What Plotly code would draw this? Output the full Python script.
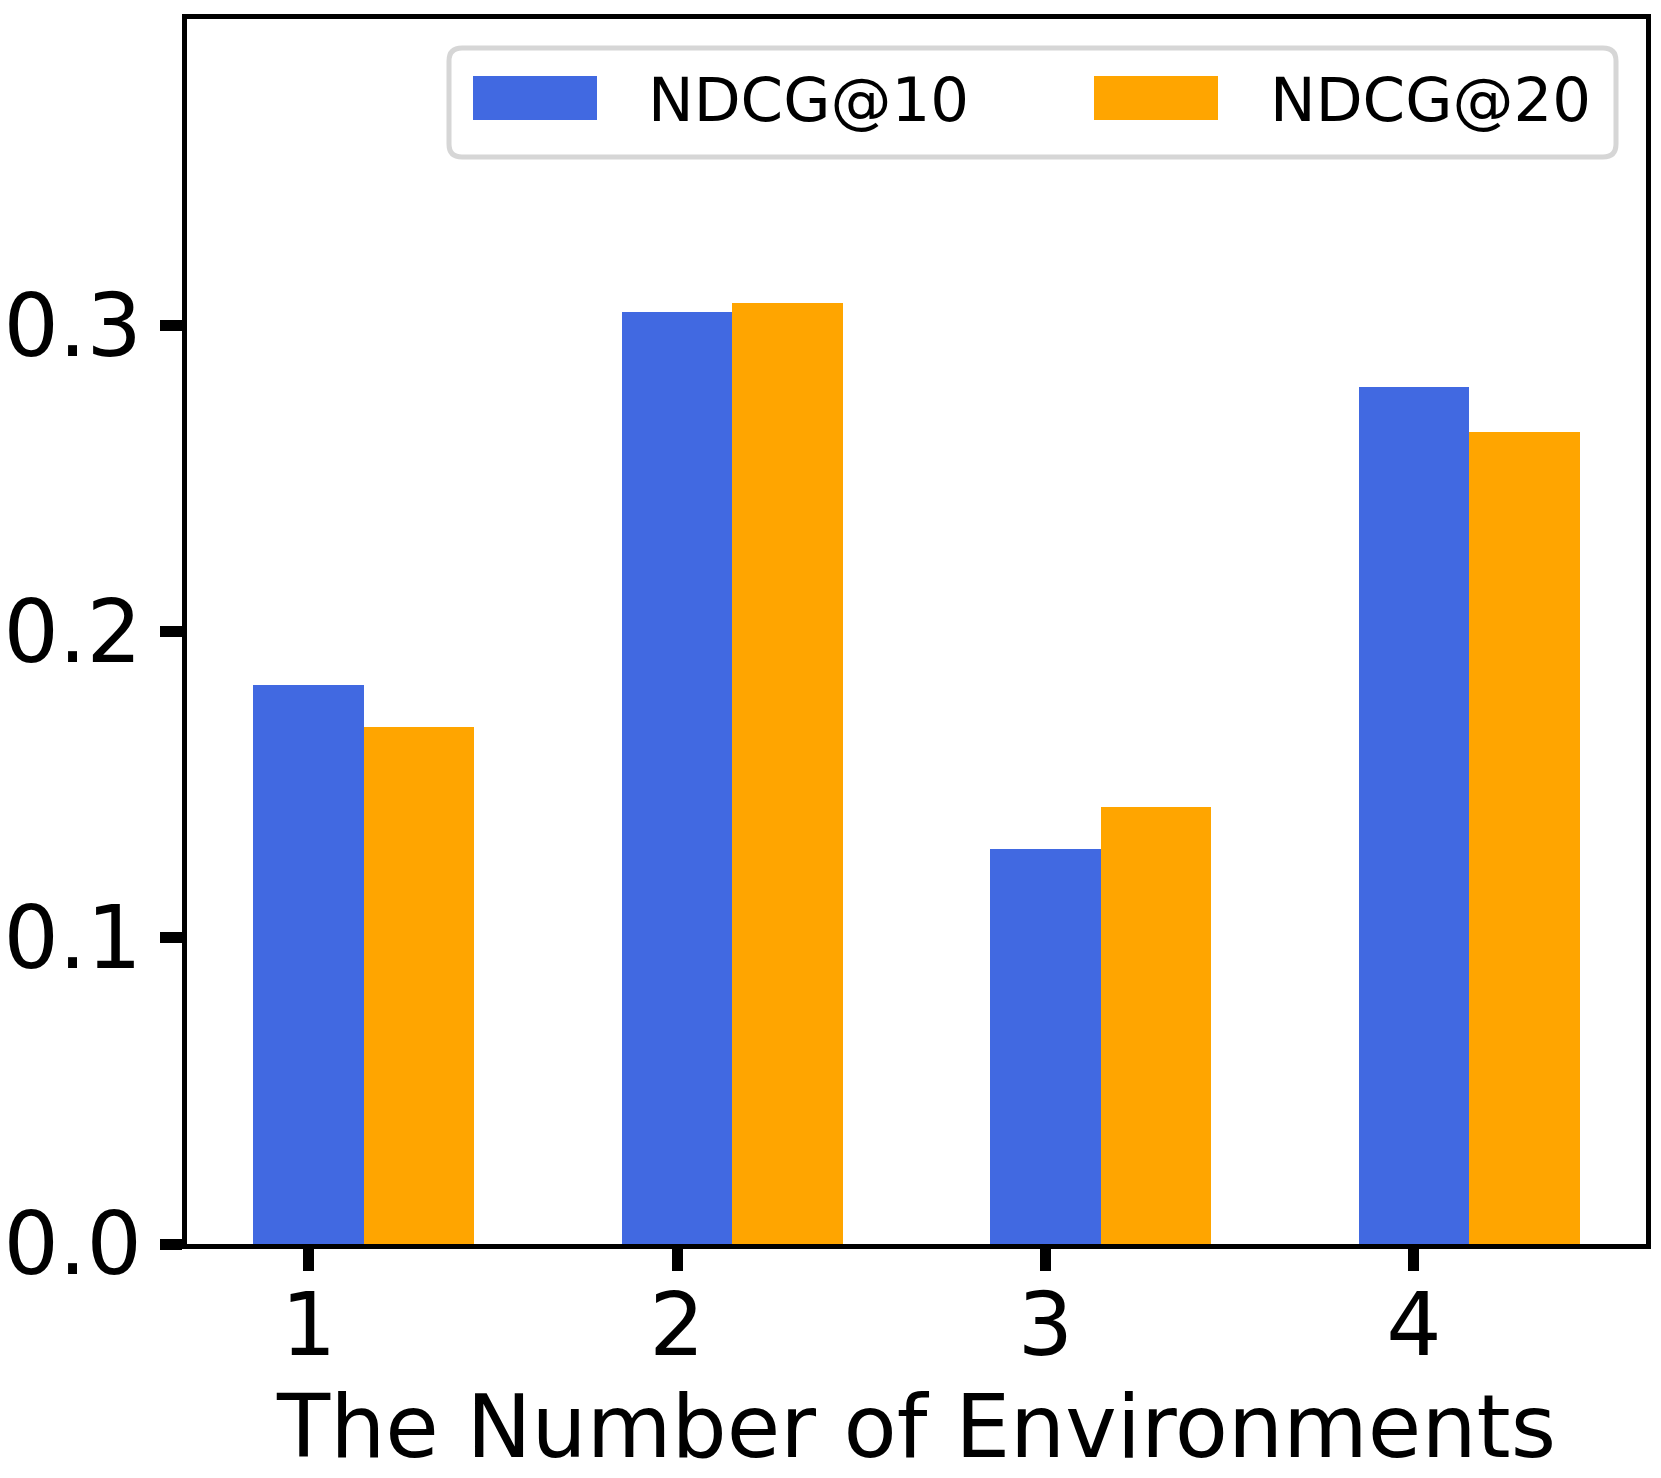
import plotly.graph_objects as go

categories = [1, 2, 3, 4]
tick_labels = ["1", "2", "3", "4"]
series_names = ["NDCG@10", "NDCG@20"]
ndcg10 = [0.1825, 0.3042, 0.1291, 0.2799]
ndcg20 = [0.1687, 0.3072, 0.1426, 0.2651]
y_ticks = [0.0, 0.1, 0.2, 0.3]

colors = ["#4169E1", "#FFA500"]
bar_w = 0.3

fig = go.Figure()
fig.add_trace(go.Bar(x=categories, y=ndcg10, width=bar_w, name=series_names[0],
                     marker=dict(color=colors[0], line=dict(width=0)), showlegend=False))
fig.add_trace(go.Bar(x=[c + bar_w for c in categories], y=ndcg20, width=bar_w, name=series_names[1],
                     marker=dict(color=colors[1], line=dict(width=0)), showlegend=False))

W, H = 1661, 1478
L, R, T, B = 187, 15, 19, 234
pw, ph = W - L - R, H - T - B

def px(x):
    return (x - L) / pw

def py(y):
    return (H - B - y) / ph

# rounded legend frame
x0, x1 = px(449), px(1616)
y0, y1 = py(157), py(48)
rx, ry = 13 / pw, 13 / ph
path = (f"M {x0+rx},{y0} L {x1-rx},{y0} Q {x1},{y0} {x1},{y0+ry} "
        f"L {x1},{y1-ry} Q {x1},{y1} {x1-rx},{y1} L {x0+rx},{y1} "
        f"Q {x0},{y1} {x0},{y1-ry} L {x0},{y0+ry} Q {x0},{y0} {x0+rx},{y0} Z")
shapes = [dict(type="path", xref="paper", yref="paper", path=path,
               line=dict(color="#d6d6d6", width=5), fillcolor="rgba(255,255,255,0.8)")]
sw = [(473, 597), (1094, 1218)]
tx = [646, 1268]
annotations = []
for i in range(2):
    shapes.append(dict(type="rect", xref="paper", yref="paper",
                       x0=px(sw[i][0]), x1=px(sw[i][1]), y0=py(120), y1=py(76),
                       fillcolor=colors[i], line=dict(width=0)))
    annotations.append(dict(xref="paper", yref="paper", x=px(tx[i]), y=py(99),
                            xanchor="left", yanchor="middle", text=series_names[i],
                            showarrow=False, font=dict(size=61, color="black")))

fig.update_layout(
    width=W, height=H,
    margin=dict(l=L, r=R, t=T, b=B, pad=0, autoexpand=False),
    paper_bgcolor="white", plot_bgcolor="white",
    font=dict(family="DejaVu Sans", color="black"),
    barmode="overlay", bargap=0, showlegend=False,
    shapes=shapes, annotations=annotations,
)
fig.update_xaxes(range=[0.67, 4.63], tickvals=categories, ticktext=tick_labels,
                 showline=True, linecolor="black", linewidth=4.5, mirror=True,
                 ticks="outside", ticklen=22, tickwidth=11, tickcolor="black",
                 tickfont=dict(size=87), showgrid=False, zeroline=False,
                 ticklabelstandoff=-20, automargin=False,
                 title=dict(text="The Number of Environments", font=dict(size=87), standoff=13))
fig.update_yaxes(range=[0, 0.4], tickvals=y_ticks, tickformat=".1f",
                 showline=True, linecolor="black", linewidth=4.5, mirror=True,
                 ticks="outside", ticklen=22, tickwidth=11, tickcolor="black",
                 tickfont=dict(size=87), showgrid=False, zeroline=False,
                 ticklabelstandoff=1, automargin=False)

fig.write_html("out.html", config={"displayModeBar": False},
               post_script="document.body.style.margin='0';document.body.style.overflow='hidden';")
